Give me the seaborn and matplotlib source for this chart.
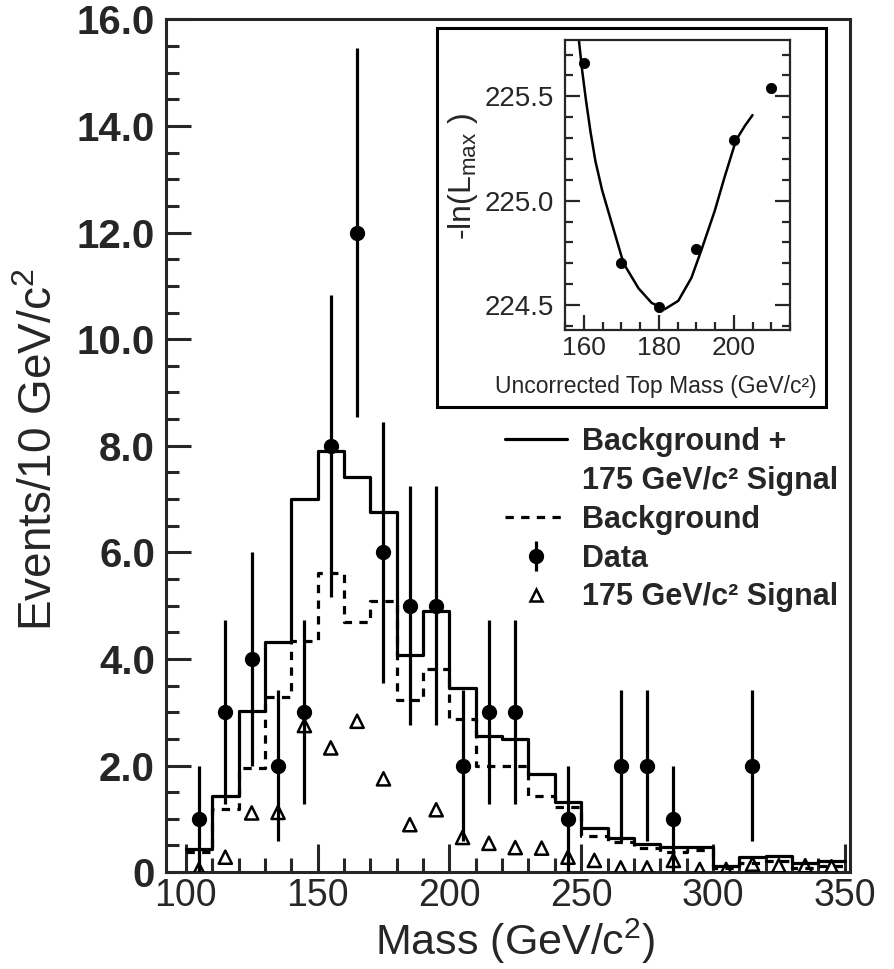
import numpy as np
import pandas as pd
import matplotlib
matplotlib.use("Agg")
import matplotlib.pyplot as plt
import seaborn as sns
from matplotlib.lines import Line2D
from matplotlib.patches import Rectangle
from matplotlib.ticker import MultipleLocator

# --- histogram data (10 GeV bins, 100-350) ---
bin_edges = list(range(100, 351, 10))
bin_centers = np.array(bin_edges[:-1]) + 5

bkg_plus_sig = [0.44, 1.43, 3.02, 4.32, 7.00, 7.91, 7.42, 6.75, 4.07, 4.90,
                3.45, 2.55, 2.50, 1.85, 1.31, 0.82, 0.64, 0.53, 0.48, 0.48,
                0.12, 0.29, 0.31, 0.17, 0.20]
bkg_only = [0.38, 1.18, 1.96, 3.29, 4.34, 5.62, 4.69, 5.08, 3.22, 3.82,
            2.87, 2.00, 2.00, 1.43, 1.22, 0.67, 0.56, 0.45, 0.38, 0.42,
            0.07, 0.17, 0.20, 0.07, 0.12]
signal_175 = [0.05, 0.28, 1.11, 1.12, 2.75, 2.33, 2.83, 1.75, 0.89, 1.17,
              0.65, 0.54, 0.46, 0.45, 0.28, 0.22, 0.08, 0.08, 0.22, 0.05,
              0.05, 0.15, 0.12, 0.12, 0.10]
data_counts = [1, 3, 4, 2, 3, 8, 12, 6, 5, 5, 2, 3, 3, 0, 1, 0, 2, 2, 1, 0,
               0, 2, 0, 0, 0]
data_err = [1.0, 1.73, 2.0, 1.41, 1.73, 2.83, 3.46, 2.45, 2.24, 2.24, 1.41,
            1.73, 1.73, 0, 1.0, 0, 1.41, 1.41, 1.0, 0, 0, 1.41, 0, 0, 0]

ytick_vals = [0, 2, 4, 6, 8, 10, 12, 14, 16]
ytick_labels = ['0', '2.0', '4.0', '6.0', '8.0', '10.0', '12.0', '14.0', '16.0']
xtick_vals = [100, 150, 200, 250, 300, 350]

# --- inset: likelihood vs top mass ---
inset_mass = [160, 170, 180, 190, 200, 210]
inset_nll = [225.66, 224.70, 224.49, 224.77, 225.29, 225.54]
fit_mass = [158.7, 159.6, 160.6, 161.8, 163.1, 164.9, 167.5, 170.6, 174.6,
            178.1, 181.6, 185.2, 188.7, 191.3, 194.9, 197.5, 200.6, 203.0, 205.0]
fit_nll = [225.77, 225.62, 225.48, 225.33, 225.19, 225.05, 224.89, 224.70,
           224.58, 224.51, 224.48, 224.52, 224.63, 224.76, 224.95, 225.11,
           225.29, 225.36, 225.41]

hist_df = pd.DataFrame({'mass': bin_centers, 'bkg_sig': bkg_plus_sig,
                        'bkg': bkg_only, 'sig': signal_175})

sns.set_style("ticks")
plt.rcParams['font.family'] = ['Liberation Sans', 'DejaVu Sans']
plt.rcParams['axes.linewidth'] = 2.2

fig = plt.figure(figsize=(8.94, 9.69), dpi=100)
ax = fig.add_axes([0.1857, 0.100, 0.7651, 0.880])

lw = 2.3
dash = (0, (2.6, 2.3))
sns.histplot(data=hist_df, x='mass', weights='bkg_sig', bins=bin_edges, element="step",
             fill=False, color="black", linewidth=lw, ax=ax)
sns.histplot(data=hist_df, x='mass', weights='bkg', bins=bin_edges, element="step",
             fill=False, color="black", linewidth=lw, linestyle=dash, ax=ax)

sns.scatterplot(data=hist_df, x='mass', y='sig', marker="^", s=90, color="black",
                facecolor="none", edgecolor="black", linewidth=1.8, zorder=3, ax=ax)

counts = np.array(data_counts, dtype=float)
errs = np.array(data_err)
has = counts > 0
data_h = ax.errorbar(bin_centers[has], counts[has], yerr=errs[has], fmt="o",
                     color="black", ms=10, elinewidth=lw, capsize=0, zorder=4)

ax.set_xlim(92.5, 352)
ax.set_ylim(0, 16)
ax.set_xticks(xtick_vals)
ax.xaxis.set_minor_locator(MultipleLocator(10))
ax.set_yticks(ytick_vals)
ax.set_yticklabels(ytick_labels)
ax.yaxis.set_minor_locator(MultipleLocator(0.5))
ax.tick_params(axis='both', which='both', direction='in', top=False, right=False)
ax.tick_params(axis='y', which='major', length=18, width=2.2, labelsize=29, pad=8)
ax.tick_params(axis='y', which='minor', length=9, width=2.2)
ax.tick_params(axis='x', which='major', length=20, width=2.2, labelsize=27, pad=4)
ax.tick_params(axis='x', which='minor', length=10, width=2.2)
for lbl in ax.get_yticklabels():
    lbl.set_fontweight('bold')
ax.set_xlabel(r'Mass (GeV/c$^{\mathregular{2}}$)', fontsize=31)
ax.set_ylabel(r'Events/10 GeV/c$^{\mathregular{2}}$', fontsize=33)
ax.xaxis.set_label_coords(0.51, -0.052)
ax.yaxis.set_label_coords(-0.152, 0.496)

h_solid = Line2D([], [], color='black', lw=lw)
h_blank = Line2D([], [], color='none')
h_dash = Line2D([], [], color='black', lw=lw, ls=dash)
h_sig = Line2D([], [], marker='^', ls='none', mfc='none', mec='black', ms=9, mew=1.8)
ax.legend([h_solid, h_blank, h_dash, data_h, h_sig],
          ['Background +', '175 GeV/c² Signal', 'Background', 'Data', '175 GeV/c² Signal'],
          loc='upper left', bbox_to_anchor=(0.495, 0.522), frameon=False,
          prop={'weight': 'bold', 'size': 22}, handlelength=2.03,
          handletextpad=0.49, labelspacing=0.29, borderpad=0, borderaxespad=0)

# inset frame and axes
box = Rectangle((0.4888, 0.58), 0.435, 0.391, transform=fig.transFigure,
                facecolor='white', edgecolor='black', lw=2.2, zorder=1)
fig.add_artist(box)

ins = fig.add_axes([0.632, 0.6594, 0.2517, 0.2993], zorder=2)
sns.lineplot(x=fit_mass, y=fit_nll, sort=False, color='black', lw=1.8, ax=ins)
sns.scatterplot(x=inset_mass, y=inset_nll, color='black', s=55, edgecolor='black',
                zorder=3, ax=ins, clip_on=False)
ins.set_xlim(155, 215)
ins.set_ylim(224.38, 225.77)
ins.set_xticks([160, 180, 200])
ins.xaxis.set_minor_locator(MultipleLocator(5))
ins.set_yticks([224.5, 225.0, 225.5])
ins.yaxis.set_minor_locator(MultipleLocator(0.1))
for s in ins.spines.values():
    s.set_linewidth(1.6)
ins.tick_params(axis='both', which='both', direction='in', top=False, right=True)
ins.tick_params(axis='both', which='major', length=11, width=1.6)
ins.tick_params(axis='both', which='minor', length=6, width=1.6)
ins.tick_params(axis='y', labelsize=20, pad=8)
ins.tick_params(axis='x', labelsize=19, pad=4)
ins.set_xlabel('Uncorrected Top Mass (GeV/c²)', fontsize=16.5)
ins.set_ylabel(r'-ln(L$_{\mathregular{max}}$ )', fontsize=23)
ins.xaxis.set_label_coords(0.405, -0.155)
ins.yaxis.set_label_coords(-0.38, 0.53)

fig.savefig("out.png", dpi=100)
